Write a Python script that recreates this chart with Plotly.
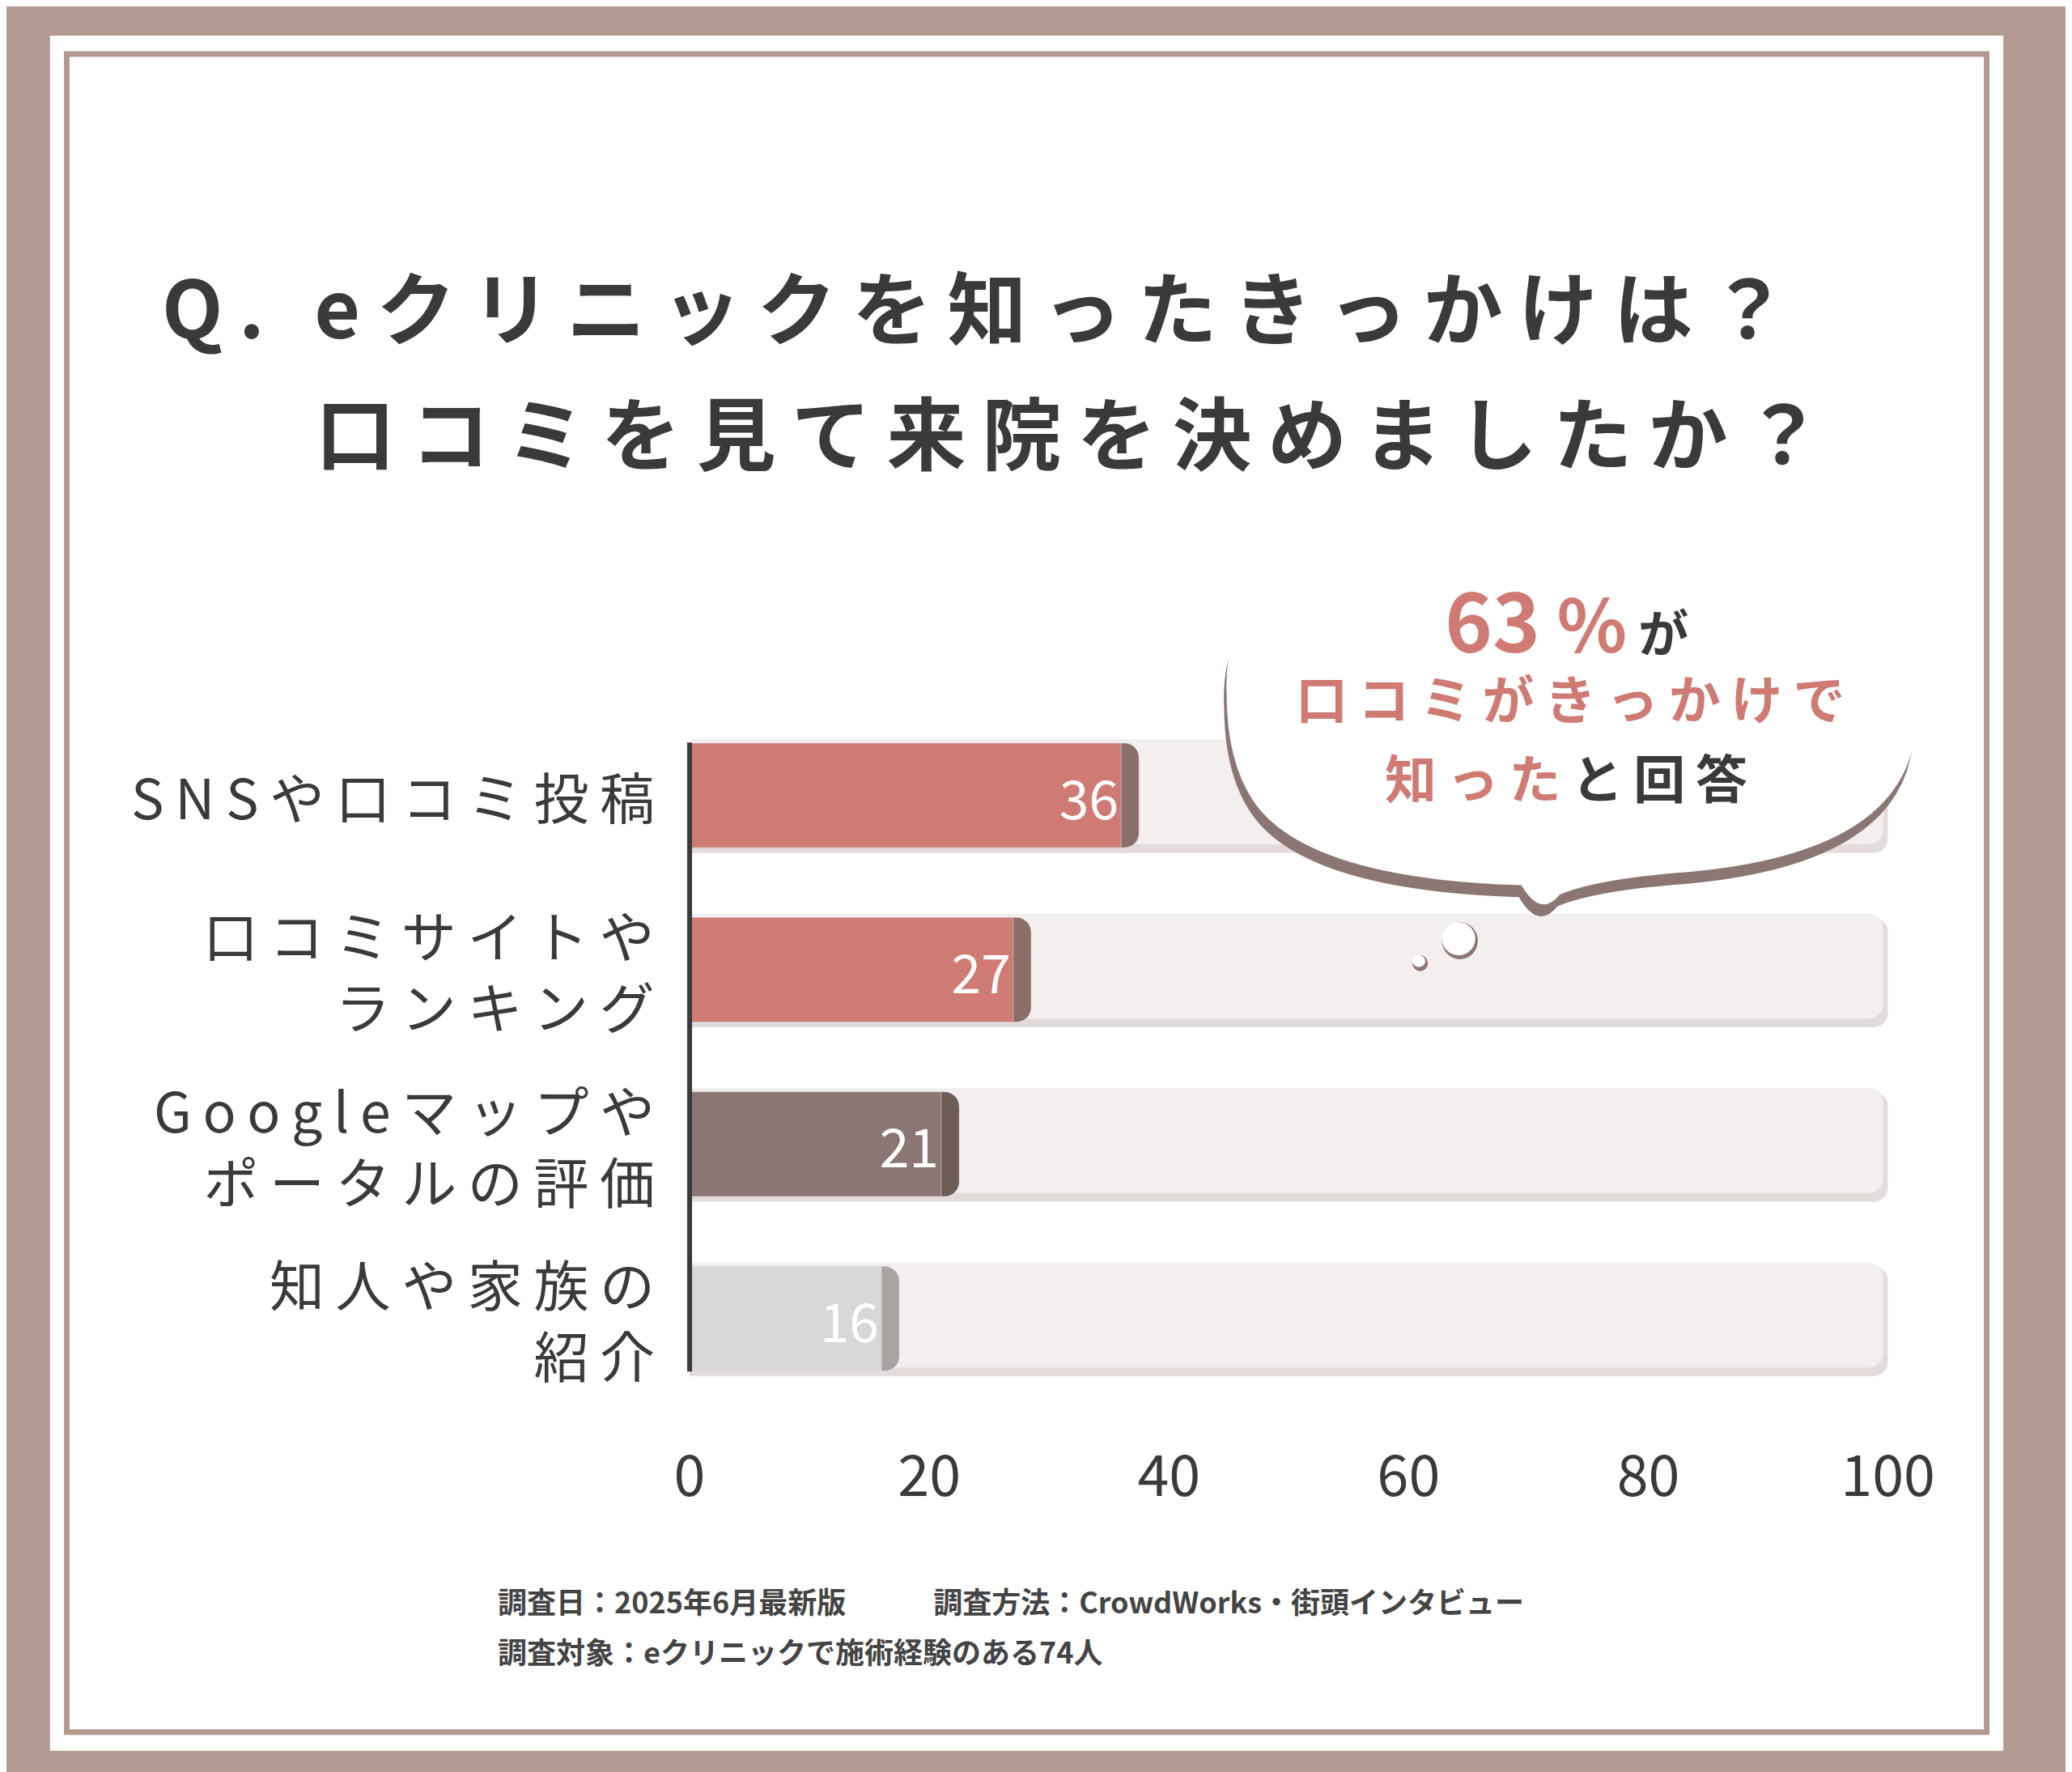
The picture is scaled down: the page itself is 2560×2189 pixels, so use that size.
import plotly.graph_objects as go

categories = ["SNSや口コミ投稿", "口コミサイトや<br>ランキング", "Googleマップや<br>ポータルの評価", "知人や家族の<br>紹介"]
values = [36, 27, 21, 16]
bar_colors = ["#d07a74", "#d07a74", "#8c7673", "#d9d6d6"]
edge_colors = ["#8c6e68", "#8c6e68", "#6e5a57", "#a9a3a2"]
x_ticks = [0, 20, 40, 60, 80, 100]
ids = ["c0", "c1", "c2", "c3"]

W, H = 2560, 2189
def fx(X): return X / 1568
def fy(Y): return 1 - Y / 1341

fig = go.Figure()
fig.add_trace(go.Bar(y=ids, x=[100]*4, orientation="h", marker=dict(color="#e3dcda", cornerradius=18),
                     width=0.63, hoverinfo="skip", offset=-0.3))
fig.add_trace(go.Bar(y=ids, x=[99.6]*4, orientation="h", marker=dict(color="#f3efee", cornerradius=18),
                     width=0.6, hoverinfo="skip", offset=-0.32))
fig.add_trace(go.Bar(y=ids, x=[v + 1.5 for v in values], orientation="h",
                     marker=dict(color=edge_colors, cornerradius=18), width=0.6, hoverinfo="skip"))
fig.add_trace(go.Bar(y=ids, x=values, orientation="h", marker=dict(color=bar_colors, cornerradius=12),
                     width=0.6, text=[str(v) for v in values], textposition="inside",
                     insidetextanchor="end", textfont=dict(color="white", size=66, family="Noto Sans CJK JP"),
                     hoverinfo="skip"))

shapes = [
    dict(type="rect", xref="paper", yref="paper", x0=fx(22), x1=fx(1546), y0=fy(1320), y1=fy(22),
         fillcolor="white", line=dict(width=0), layer="below"),
    dict(type="rect", xref="paper", yref="paper", x0=fx(35), x1=fx(1533), y0=fy(1306), y1=fy(36),
         fillcolor="rgba(0,0,0,0)", line=dict(color="#b39a90", width=7), layer="below"),
    dict(type="line", xref="paper", yref="paper", x0=fx(521), x1=fx(521), y0=fy(1033), y1=fy(557),
         line=dict(color="#3a3a3a", width=6)),
]

def bubble(dx, dy, color):
    # sequence of (control, end) quadratic segments, display coords
    start = (940, 520)
    segs = [((935, 420), (1080, 410)), ((1200, 395), (1330, 405)), ((1480, 420), (1478, 540)),
            ((1475, 640), (1300, 655)), ((1230, 660), (1200, 672)), ((1185, 690), (1170, 665)),
            ((1000, 660), (960, 600)), ((940, 570), start)]
    def p(x, y): return "%f,%f" % (fx(x + dx), fy(y + dy))
    d = "M " + p(*start)
    for c, e in segs:
        d += " Q " + p(*c) + " " + p(*e)
    d += " Z"
    return dict(type="path", xref="paper", yref="paper", path=d, fillcolor=color, line=dict(width=0))

shapes.append(bubble(-2, 9, "#8c7673"))
shapes.append(bubble(0, 0, "white"))
for cx, cy, r in [(1122, 707, 14), (1091, 724, 6)]:
    shapes.append(dict(type="circle", xref="paper", yref="paper", x0=fx(cx - r), x1=fx(cx + r),
                       y0=fy(cy + r), y1=fy(cy - r), fillcolor="#8c7673", line=dict(width=0)))
    shapes.append(dict(type="circle", xref="paper", yref="paper", x0=fx(cx - r), x1=fx(cx + r - 2),
                       y0=fy(cy + r - 3), y1=fy(cy - r), fillcolor="white", line=dict(width=0)))

F = "Noto Sans CJK JP"
ann = []
def sp(s): return "\u2009".join(s)
ann.append(dict(x=fx(108), y=fy(225), xref="paper", yref="paper", xanchor="left", yanchor="middle",
                text="<b>" + sp("Q. eクリニックを知ったきっかけは？") + "</b>", showarrow=False,
                font=dict(size=98, color="#3a3a3a", family=F)))
ann.append(dict(x=fx(228), y=fy(320), xref="paper", yref="paper", xanchor="left", yanchor="middle",
                text="<b>" + sp("口コミを見て来院を決めましたか？") + "</b>", showarrow=False,
                font=dict(size=98, color="#3a3a3a", family=F)))
for c, i in zip(categories, ids):
    ann.append(dict(x=fx(495), y=i, xref="paper", yref="y", xanchor="right", yanchor="middle",
                    text=sp(c.replace("<br>", "\n")).replace("\u2009\n\u2009", "<br>"), align="right", showarrow=False,
                    font=dict(size=68, color="#3a3a3a", family=F)))
ann.append(dict(x=fx(1205), y=fy(462), xref="paper", yref="paper", xanchor="center", yanchor="middle",
                showarrow=False,
                text="<b><span style='font-size:100px;color:#d07a74'>63</span><span style='font-size:90px;color:#d07a74'> %</span>"
                     "<span style='font-size:62px;color:#3a3a3a'> が</span></b>",
                font=dict(family=F)))
ann.append(dict(x=fx(1208), y=fy(522), xref="paper", yref="paper", xanchor="center", yanchor="middle",
                showarrow=False,
                text="<b>" + sp("口コミがきっかけで") + "</b>", font=dict(size=64, color="#d07a74", family=F)))
ann.append(dict(x=fx(1205), y=fy(582), xref="paper", yref="paper", xanchor="center", yanchor="middle",
                showarrow=False,
                text="<b><span style='color:#d07a74'>" + sp("知った") + "</span>\u2009" + sp("と回答") + "</b>",
                font=dict(size=64, color="#3a3a3a", family=F)))
ann.append(dict(x=fx(370), y=fy(1206), xref="paper", yref="paper", xanchor="left", yanchor="middle",
                showarrow=False,
                text="<b>調査日：2025年6月最新版　　　調査方法：CrowdWorks・街頭インタビュー</b>",
                font=dict(size=36, color="#444444", family=F)))
ann.append(dict(x=fx(370), y=fy(1244), xref="paper", yref="paper", xanchor="left", yanchor="middle",
                showarrow=False,
                text="<b>調査対象：eクリニックで施術経験のある74人</b>",
                font=dict(size=36, color="#444444", family=F)))

fig.update_layout(
    width=W, height=H, margin=dict(l=0, r=0, t=0, b=0),
    paper_bgcolor="#b39a90", plot_bgcolor="rgba(0,0,0,0)",
    barmode="overlay", showlegend=False, shapes=shapes, annotations=ann,
    xaxis=dict(domain=[fx(521), fx(1456)], range=[0, 100], tickvals=x_ticks, showgrid=False,
               zeroline=False, showline=False, ticks="", ticklabelstandoff=40,
               tickfont=dict(size=70, color="#3a3a3a", family=F)),
    yaxis=dict(domain=[fy(1059), fy(531)], categoryorder="array", categoryarray=ids,
               autorange="reversed", showticklabels=False, showgrid=False, zeroline=False),
)
fig.write_html("out.html")
